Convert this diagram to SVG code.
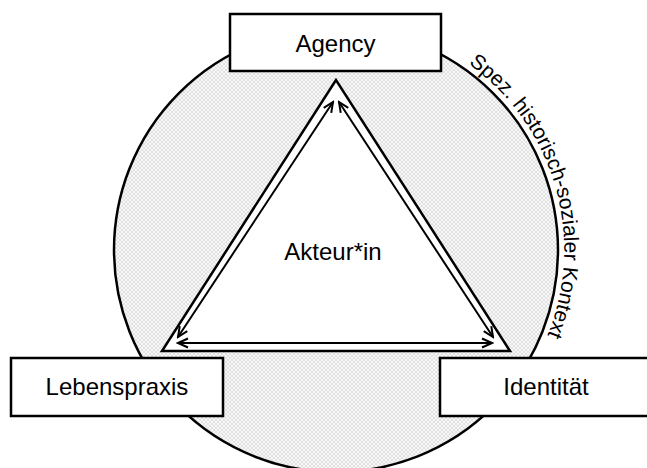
<svg xmlns="http://www.w3.org/2000/svg" width="647" height="468" viewBox="0 0 647 468">
  <style>
    .box { fill: #ffffff; stroke: #000000; stroke-width: 2.5; }
    .lbl { font-family: "Liberation Sans", Arial, sans-serif; font-size: 24px; fill: #000000; text-anchor: middle; }
    .ctx { font-family: "Liberation Sans", Arial, sans-serif; font-size: 21px; fill: #000000; }
    .arrow { fill: none; stroke: #000000; stroke-width: 2; marker-start: url(#head); marker-end: url(#head); }
  </style>
  <defs>
    <pattern id="hatch" patternUnits="userSpaceOnUse" width="4" height="4">
      <rect width="4" height="4" fill="#f8f8f8"/>
      <path d="M0,0 L4,4 M4,0 L0,4" stroke="#d2d2d2" stroke-width="0.6" fill="none"/>
    </pattern>
    <marker id="head" markerUnits="userSpaceOnUse" viewBox="-12 -6 14 12" refX="0" refY="0" markerWidth="14" markerHeight="12" orient="auto-start-reverse">
      <path d="M-10,-4.5 L0,0 L-10,4.5" fill="none" stroke="#000000" stroke-width="2"/>
    </marker>
    <path id="ctxPath" d="M468.4,64 A228,228 0 0 1 533.5,364"/>
  </defs>

  <g id="context">
    <circle cx="336" cy="250" r="222" fill="url(#hatch)" stroke="#000000" stroke-width="2.5"/>
    <text class="ctx"><textPath href="#ctxPath">Spez.  historisch-sozialer  Kontext</textPath></text>
  </g>

  <g id="node-akteur">
    <polygon points="336,80 162,351 510,351" fill="#ffffff" stroke="#000000" stroke-width="2.5" stroke-linejoin="miter"/>
    <text class="lbl" x="333" y="260">Akteur*in</text>
  </g>

  <g id="connectors">
    <line class="arrow" x1="333" y1="102" x2="178" y2="337"/>
    <line class="arrow" x1="339" y1="102" x2="493" y2="337"/>
    <line class="arrow" x1="178" y1="343" x2="492" y2="343"/>
  </g>

  <g id="node-agency">
    <rect class="box" x="230" y="14" width="211" height="57"/>
    <text class="lbl" x="335.5" y="52">Agency</text>
  </g>

  <g id="node-lebenspraxis">
    <rect class="box" x="11" y="358" width="212" height="58"/>
    <text class="lbl" x="117" y="395">Lebenspraxis</text>
  </g>

  <g id="node-identitaet">
    <rect class="box" x="440" y="358" width="212" height="58"/>
    <text class="lbl" x="546" y="395">Identität</text>
  </g>
</svg>
